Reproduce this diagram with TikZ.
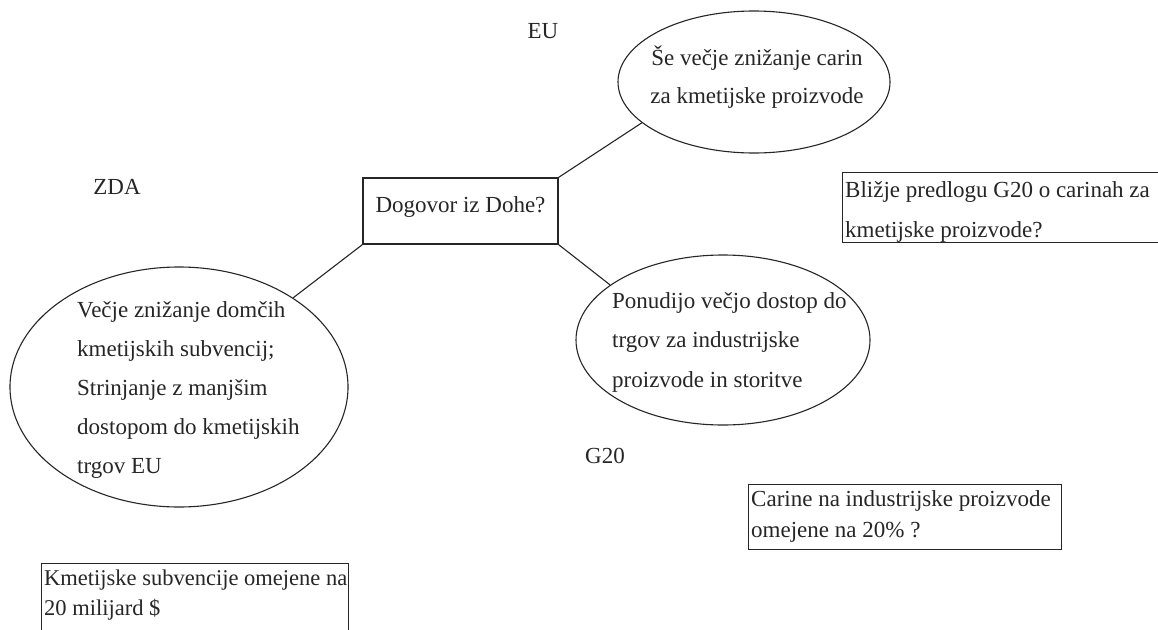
\documentclass[tikz,border=0pt]{standalone}
\usepackage{fontspec}
\setmainfont{Liberation Serif}
\usetikzlibrary{shapes.geometric}
\newcommand\firstln{\rule{0pt}{18pt}}
\begin{document}
\begin{tikzpicture}[x=1pt,y=-1pt,
  every node/.style={font=\fontsize{23}{39}\selectfont, text=black!85},
  ell/.style={draw=black!85, ellipse, line width=1.1pt, inner sep=0pt},
  frame/.style={draw=black!85, rectangle, line width=1.1pt, inner sep=0pt, anchor=north west},
  blk/.style={inner sep=0pt, anchor=north west, align=left},
  tag/.style={inner sep=0pt, anchor=base},
  link/.style={draw=black!85, line width=1.1pt}
]
\useasboundingbox[fill=white] (0,0) rectangle (1158,629);

% group labels
\node[tag] (eutag) at (543,38) {EU};
\node[tag] (zdatag) at (117,194) {ZDA};
\node[tag] (g20tag) at (605,463) {G20};

% central box
\node[draw=black!85, rectangle, line width=1.3pt, minimum width=195pt, minimum height=66pt,
      text height=16pt, text depth=14pt, inner sep=0pt] (doha) at (460.5,211) {Dogovor iz Dohe?};

% ellipses
\node[ell, minimum width=272pt, minimum height=142pt] (euell) at (754,82) {};
\node[ell, minimum width=338pt, minimum height=240pt] (zdaell) at (179,387) {};
\node[ell, minimum width=294pt, minimum height=170pt] (g20ell) at (723,340) {};

\node[inner sep=0pt, anchor=north, align=center, font=\fontsize{23}{38}\selectfont] (eutxt) at (757,46)
  {\firstln Še večje znižanje carin\\za kmetijske proizvode};
\node[blk] (zdatxt) at (77,299)
  {\firstln Večje znižanje domčih\\kmetijskih subvencij;\\Strinjanje z manjšim\\dostopom do kmetijskih\\trgov EU};
\node[blk, font=\fontsize{23}{39.5}\selectfont] (g20txt) at (612,290)
  {\firstln Ponudijo večjo dostop do\\trgov za industrijske\\proizvode in storitve};

% connectors
\draw[link] (doha.north east) -- (euell.200.7);
\draw[link] (doha.south west) -- (zdaell.38.4);
\draw[link] (doha.south east) -- (g20ell.154);

% proposal boxes
\node[frame, minimum width=330pt, minimum height=70pt] (blizje) at (842,172) {};
\node[blk, font=\fontsize{23}{40}\selectfont] (blizjetxt) at (845,179)
  {\firstln Bližje predlogu G20 o carinah za\\kmetijske proizvode?};

\node[frame, minimum width=313pt, minimum height=65pt] (carine) at (748,484) {};
\node[blk, font=\fontsize{23}{31}\selectfont] (carinetxt) at (751,488)
  {\firstln Carine na industrijske proizvode\\omejene na 20\% ?};

\node[frame, minimum width=307pt, minimum height=90pt] (kmet) at (41,563) {};
\node[blk, font=\fontsize{22.5}{30}\selectfont] (kmettxt) at (44,567)
  {\firstln Kmetijske subvencije omejene na\\20 milijard \$};
\end{tikzpicture}
\end{document}
